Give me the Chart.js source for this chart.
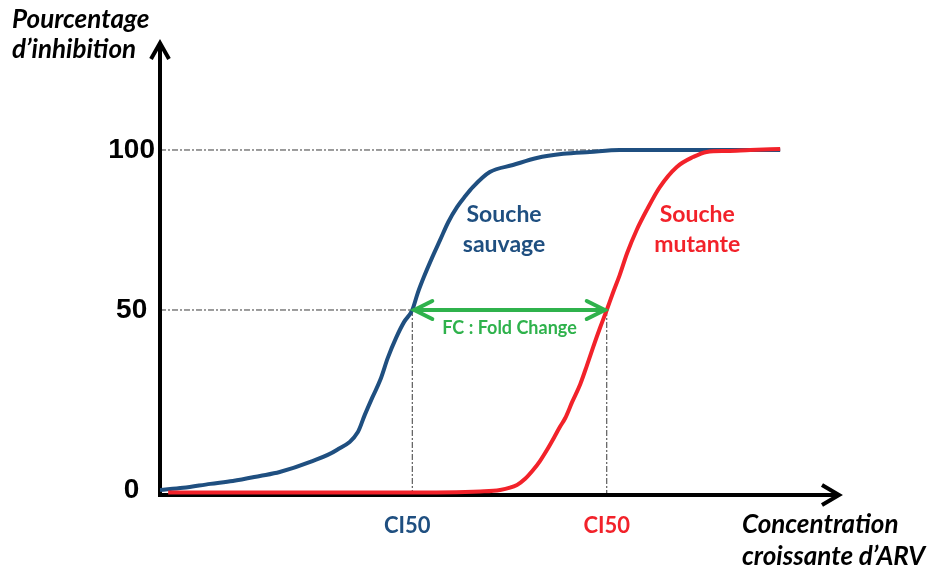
<!DOCTYPE html>
<html lang="fr">
<head>
<meta charset="utf-8">
<title>Pourcentage d'inhibition</title>
<script src="https://cdn.jsdelivr.net/npm/chart.js@4.4.1/dist/chart.umd.min.js"></script>
<style>
  html, body { margin: 0; padding: 0; background: #fff; }
  #graphique { display: block; }
</style>
</head>
<body>
<canvas id="graphique" width="931" height="570"></canvas>
<script>
var xSauvage = [0, 3.4, 7.4, 10.7, 14.7, 17.6, 22.1, 26.0, 29.1, 30.1, 31.2, 32.4, 33.5, 34.7, 35.9, 37.1,
                37.9, 38.8, 40.0, 41.2, 42.4, 43.7, 44.9, 46.0, 48.5, 51.9, 55.4, 59.3, 63.2, 67.6, 79.4, 91.2];
var ySauvage = [0, 0.6, 1.7, 2.5, 3.9, 5.0, 7.8, 11.1, 16.1, 20.8, 25.6, 30.6, 36.7, 42.2, 46.7, 50,
                55.3, 60.3, 66.3, 71.9, 77.5, 82.2, 85.6, 88.4, 93.1, 95.3, 97.5, 98.8, 99.4, 100, 100, 100];

var xMutante = [1.2, 20.6, 35.3, 47.1, 50.0, 52.5, 53.7, 54.9, 55.9, 56.9, 57.9, 58.8, 59.6, 60.6, 61.8, 62.8,
                63.7, 64.7, 65.7, 66.6, 67.6, 68.7, 70.1, 71.6, 73.5, 76.0, 78.4, 80.4, 83.4, 86.8, 91.2];
var yMutante = [-0.7, -0.7, -0.7, -0.4, 0, 1.4, 3.1, 5.6, 8.1, 11.1, 14.4, 17.5, 20.0, 24.4, 29.4, 34.7,
                39.7, 45.0, 50, 55.3, 60.9, 67.8, 75.0, 81.3, 88.4, 94.7, 97.8, 99.4, 99.7, 100, 100.3];

var yTicks = [0, 50, 100];
var ci50Sauvage = 37.1;
var ci50Mutante = 65.7;
var finCourbes = 91.2;

var BLEU = '#1f4f80';
var ROUGE = '#f2222a';
var VERT = '#2fb24c';

// Sur le schéma, la moitié basse (0-50 %) est un peu plus haute que la moitié haute
var rapportBas = 1.125;
function dilater(v) {
    return v < 50 ? v * rapportBas : 50 * rapportBas + (v - 50);
}

var LinearScale = Chart.LinearScale || Chart.registry.getScale('linear');
class EchelleInhibition extends LinearScale {
    getPixelForValue(value) {
        var a = dilater(this.min), b = dilater(this.max);
        return this.getPixelForDecimal((dilater(value) - a) / (b - a));
    }
}
EchelleInhibition.id = 'inhibition';
Chart.register(EchelleInhibition);

function points(xs, ys) {
    return xs.map(function(x, i) { return { x: x, y: ys[i] }; });
}

function tiretsPoints(ctx, x1, y1, x2, y2) {
    ctx.save();
    ctx.strokeStyle = '#3a3a3a';
    ctx.lineWidth = 1;
    ctx.setLineDash([6, 2, 2, 2]);
    ctx.beginPath();
    ctx.moveTo(x1, y1);
    ctx.lineTo(x2, y2);
    ctx.stroke();
    ctx.restore();
}

// pointe ouverte en forme de chevron
function chevron(ctx, x, y, dx, dy, sens) {
    ctx.beginPath();
    if (sens === 'haut') {
        ctx.moveTo(x - dx, y + dy); ctx.lineTo(x, y); ctx.lineTo(x + dx, y + dy);
    } else if (sens === 'droite') {
        ctx.moveTo(x - dx, y - dy); ctx.lineTo(x, y); ctx.lineTo(x - dx, y + dy);
    } else {
        ctx.moveTo(x + dx, y - dy); ctx.lineTo(x, y); ctx.lineTo(x + dx, y + dy);
    }
    ctx.stroke();
}

function texte(ctx, str, x, y, font, color, align) {
    ctx.font = font;
    ctx.fillStyle = color;
    ctx.textAlign = align || 'center';
    ctx.textBaseline = 'alphabetic';
    ctx.fillText(str, x, y);
}

var schemaPlugin = {
    id: 'schema',
    beforeDatasetsDraw: function(chart) {
        var ctx = chart.ctx, a = chart.chartArea;
        var xs = chart.scales.x, ys = chart.scales.y;
        var y100 = ys.getPixelForValue(100), y50 = ys.getPixelForValue(50);
        var xa = xs.getPixelForValue(ci50Sauvage), xb = xs.getPixelForValue(ci50Mutante);

        tiretsPoints(ctx, a.left, y100, xs.getPixelForValue(finCourbes), y100);
        tiretsPoints(ctx, a.left, y50, xa, y50);
        tiretsPoints(ctx, xa, y50, xa, a.bottom);
        tiretsPoints(ctx, xb, y50, xb, a.bottom);

        // axes avec flèches
        ctx.save();
        ctx.strokeStyle = '#000';
        ctx.lineWidth = 4;
        ctx.beginPath();
        ctx.moveTo(a.left, a.bottom + 2);
        ctx.lineTo(a.left, a.top + 1);
        ctx.moveTo(a.left - 2, a.bottom);
        ctx.lineTo(a.right - 1, a.bottom);
        ctx.stroke();
        ctx.lineJoin = 'miter';
        chevron(ctx, a.left, a.top + 1, 9, 16, 'haut');
        chevron(ctx, a.right - 1, a.bottom, 17, 10, 'droite');
        ctx.restore();
    },
    afterDatasetsDraw: function(chart) {
        var ctx = chart.ctx, a = chart.chartArea;
        var xs = chart.scales.x, ys = chart.scales.y;
        var y50 = ys.getPixelForValue(50);
        var xa = xs.getPixelForValue(ci50Sauvage), xb = xs.getPixelForValue(ci50Mutante);

        // double flèche du Fold Change
        ctx.save();
        ctx.strokeStyle = VERT;
        ctx.lineWidth = 4;
        ctx.lineCap = 'round';
        ctx.beginPath();
        ctx.moveTo(xa + 2, y50);
        ctx.lineTo(xb - 2, y50);
        ctx.stroke();
        chevron(ctx, xa + 2, y50, 18, 9, 'gauche');
        chevron(ctx, xb - 2, y50, 18, 9, 'droite');
        ctx.restore();

        ctx.save();
        texte(ctx, 'FC : Fold Change', (xa + xb) / 2, y50 + 24, 'bold 18px Lato', VERT);

        texte(ctx, 'Souche', xs.getPixelForValue(50.6), ys.getPixelForValue(77.5), 'bold 23px Lato', BLEU);
        texte(ctx, 'sauvage', xs.getPixelForValue(50.6), ys.getPixelForValue(68.1), 'bold 23px Lato', BLEU);
        texte(ctx, 'Souche', xs.getPixelForValue(79.0), ys.getPixelForValue(77.5), 'bold 23px Lato', ROUGE);
        texte(ctx, 'mutante', xs.getPixelForValue(79.0), ys.getPixelForValue(68.1), 'bold 23px Lato', ROUGE);

        texte(ctx, 'CI50', xa - 5, a.bottom + 38, 'bold 22px Lato', BLEU);
        texte(ctx, 'CI50', xb, a.bottom + 38, 'bold 22px Lato', ROUGE);

        texte(ctx, 'Pourcentage', 12, 28, 'italic bold 26px Lato', '#000', 'left');
        texte(ctx, 'd\u2019inhibition', 12, 58, 'italic bold 26px Lato', '#000', 'left');
        texte(ctx, 'Concentration', 742, a.bottom + 38, 'italic bold 26px Lato', '#000', 'left');
        texte(ctx, 'croissante d\u2019ARV', 742, a.bottom + 70, 'italic bold 26px Lato', '#000', 'left');
        ctx.restore();
    }
};

new Chart(document.getElementById('graphique').getContext('2d'), {
    type: 'line',
    data: {
        datasets: [{
            label: 'Souche mutante',
            data: points(xMutante, yMutante),
            borderColor: ROUGE,
            borderWidth: 4,
            pointRadius: 0,
            fill: false,
            cubicInterpolationMode: 'monotone'
        }, {
            label: 'Souche sauvage',
            data: points(xSauvage, ySauvage),
            borderColor: BLEU,
            borderWidth: 4,
            pointRadius: 0,
            fill: false,
            cubicInterpolationMode: 'monotone'
        }]
    },
    options: {
        responsive: false,
        animation: false,
        events: [],
        layout: { padding: { left: 100, right: 91, top: 42, bottom: 75 } },
        plugins: {
            legend: { display: false },
            tooltip: { enabled: false }
        },
        scales: {
            x: {
                type: 'linear',
                min: 0,
                max: 100,
                display: false
            },
            y: {
                type: 'inhibition',
                min: -1.39,
                max: 133.75,
                grid: { display: false, drawTicks: false },
                border: { display: false },
                afterFit: function(scale) { scale.width = 60; },
                afterBuildTicks: function(scale) {
                    scale.ticks = yTicks.map(function(v) { return { value: v }; });
                },
                ticks: {
                    crossAlign: 'center',
                    padding: 5,
                    color: '#000',
                    font: { family: 'Liberation Sans', size: 28, weight: 'bold' }
                }
            }
        }
    },
    plugins: [schemaPlugin]
});
</script>
</body>
</html>
